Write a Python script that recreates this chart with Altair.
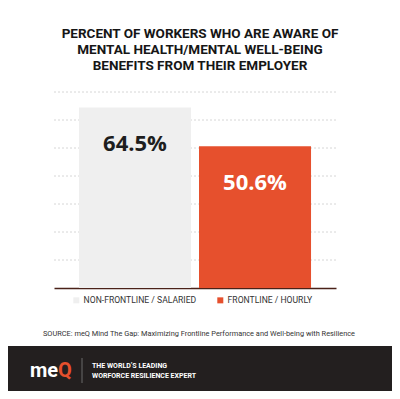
import altair as alt
import pandas as pd

CATEGORIES = ["NON-FRONTLINE / SALARIED", "FRONTLINE / HOURLY"]
VALUES = [64.5, 50.6]
LABELS = ["64.5%", "50.6%"]
COLORS = ["#efefef", "#e6502d"]
LABEL_COLORS = ["#1e1e1e", "#ffffff"]
GRID_TICKS = [10, 20, 30, 40, 50, 60, 70]
TITLE_LINES = [
    "PERCENT OF WORKERS WHO ARE AWARE OF",
    "MENTAL HEALTH/MENTAL WELL-BEING",
    "BENEFITS FROM THEIR EMPLOYER",
]
SOURCE = "SOURCE: meQ Mind The Gap: Maximizing Frontline Performance and Well-being with Resilience"
FOOTER_LINES = ["THE WORLD\u2019S LEADING", "WORFORCE RESILIENCE EXPERT"]

W, H = 384, 383
bars_df = pd.DataFrame({"group": CATEGORIES, "value": VALUES, "label": LABELS, "lc": LABEL_COLORS})
grid_df = pd.DataFrame({"v": GRID_TICKS})
one = pd.DataFrame({"k": [0]})

yscale = alt.Scale(domain=[0, 70], range=[280, 84], nice=False, zero=True)
xscale = alt.Scale(domain=CATEGORIES, range=[46, 328], paddingInner=0.0667, paddingOuter=0.208)
# baseline drawn as the x axis domain line, moved up onto the zero line
xaxis = alt.Axis(
    title=None, labels=False, ticks=False, grid=False, domain=True,
    domainColor="#4a2219", domainWidth=1.6, offset=-103,
)

grid = alt.Chart(grid_df).mark_rule(
    color="#d6d6d6", strokeDash=[2, 2], strokeWidth=1
).encode(
    y=alt.Y("v:Q", scale=yscale, axis=None),
    x=alt.value(46), x2=alt.value(328),
)

bars = alt.Chart(bars_df).mark_bar().encode(
    x=alt.X("group:N", scale=xscale, axis=xaxis),
    y=alt.Y("value:Q", scale=yscale, axis=None),
    color=alt.Color(
        "group:N",
        scale=alt.Scale(domain=CATEGORIES, range=COLORS),
        legend=alt.Legend(
            title=None, orient="none", direction="horizontal",
            legendX=64, legendY=288, symbolType="square", symbolSize=36,
            symbolStrokeWidth=0, labelFont="Roboto", labelFontSize=8.6, labelColor="#333333",
            columnPadding=19, labelOffset=3,
        ),
    ),
)

labels = alt.Chart(bars_df).mark_text(
    font="Open Sans", fontWeight="bold", fontSize=22, baseline="middle", dy=37
).encode(
    x=alt.X("group:N", scale=xscale, axis=xaxis),
    y=alt.Y("value:Q", scale=yscale, axis=None),
    text="label:N",
    color=alt.Color("lc:N", scale=None, legend=None),
)

title = alt.Chart(one).mark_text(
    text=TITLE_LINES, font="Roboto", fontWeight="bold", fontSize=13.5, lineHeight=16,
    color="#161616", align="center", baseline="top",
).encode(x=alt.value(192), y=alt.value(19))

source = alt.Chart(one).mark_text(
    text=SOURCE, font="Roboto", fontSize=7.4, color="#333333", align="center", baseline="middle"
).encode(x=alt.value(191), y=alt.value(326))

footer = alt.Chart(one).mark_rect(color="#231f1f").encode(
    x=alt.value(0), x2=alt.value(W), y=alt.value(338), y2=alt.value(H)
)

logo_me = alt.Chart(one).mark_text(
    text="me", font="Roboto", fontWeight="bold", fontSize=20, color="#ffffff", align="left", baseline="middle"
).encode(x=alt.value(22), y=alt.value(363))
logo_q = alt.Chart(one).mark_text(
    text="Q", font="Roboto", fontWeight="bold", fontSize=20, color="#e6502d", align="left", baseline="middle"
).encode(x=alt.value(50), y=alt.value(363))

divider = alt.Chart(one).mark_rule(color="#6a6a6a", strokeWidth=1).encode(
    x=alt.value(74), y=alt.value(350), y2=alt.value(375)
)

footer_text = alt.Chart(one).mark_text(
    text=FOOTER_LINES, font="Roboto", fontWeight="bold", fontSize=7, lineHeight=10,
    color="#ffffff", align="left", baseline="top",
).encode(x=alt.value(84), y=alt.value(354))

chart = alt.layer(
    grid, bars, labels, title, source, footer, logo_me, logo_q, divider, footer_text
).properties(
    width=W, height=H, autosize=alt.AutoSizeParams(type="none"), padding=0, background="white"
).configure_view(stroke=None)

chart.save("out.html", embed_options={"renderer": "svg", "actions": False})
